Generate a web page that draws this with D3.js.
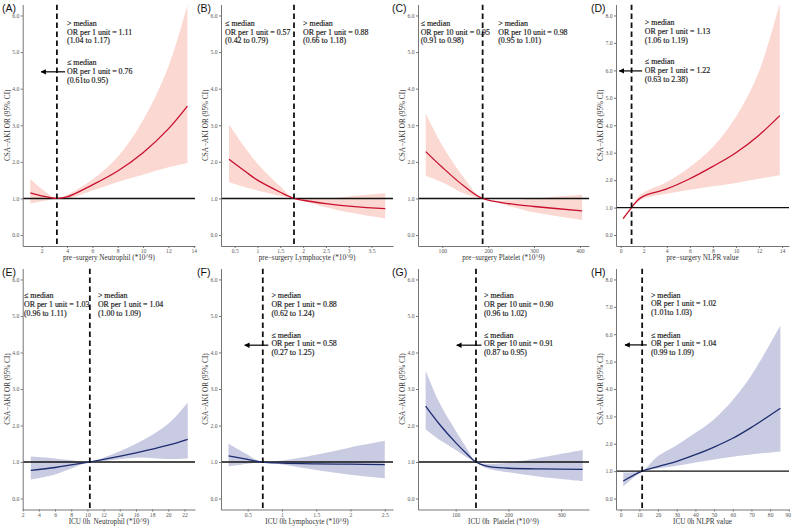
<!DOCTYPE html>
<html lang="en">
<head>
<meta charset="utf-8">
<title>CSA-AKI restricted cubic spline panels</title>
<script src="https://cdn.jsdelivr.net/npm/d3@7"></script>
<style>
  body { margin: 0; background: #fff; }
  svg { display: block; }
  .tick text { font-family: "Liberation Serif", serif; font-size: 5.6px; fill: #555; }
  .axis path, .axis line { stroke: #666; stroke-width: 0.9; }
  .note { font-family: "Liberation Serif", serif; font-size: 7.9px; fill: #1e1e1e; stroke: #1e1e1e; stroke-width: 0.18; }
  .ttl { font-family: "Liberation Serif", serif; font-size: 7.2px; fill: #333; }
  .plab { font-family: "Liberation Sans", Arial, sans-serif; font-size: 10.5px; fill: #111; }
</style>
</head>
<body>
<script>
// ---- data (x, fitted OR, lower 95% CI, upper 95% CI) ----
var aX   = [1.1, 2.0, 3.2, 4.0, 6.0, 8.0, 10.0, 12.0, 13.5];
var aFit = [1.15, 1.07, 1.0, 1.04, 1.37, 1.75, 2.25, 2.9, 3.52];
var aLo  = [0.86, 0.92, 1.0, 0.99, 1.22, 1.45, 1.65, 1.85, 1.97];
var aHi  = [1.53, 1.26, 1.0, 1.10, 1.52, 2.14, 3.14, 4.6, 6.28];

var bX   = [0.375, 0.75, 1.0, 1.5, 1.8, 2.0, 2.5, 3.0, 3.8];
var bFit = [2.07, 1.72, 1.5, 1.17, 1.0, 0.95, 0.86, 0.79, 0.72];
var bLo  = [1.44, 1.3, 1.22, 1.07, 1.0, 0.93, 0.76, 0.62, 0.45];
var bHi  = [3.02, 2.35, 1.95, 1.33, 1.0, 1.0, 0.99, 1.05, 1.14];

var cX   = [64, 100, 150, 188, 250, 300, 405];
var cFit = [2.28, 1.85, 1.31, 1.0, 0.85, 0.78, 0.66];
var cLo  = [1.62, 1.44, 1.12, 1.0, 0.78, 0.62, 0.41];
var cHi  = [3.32, 2.45, 1.52, 1.0, 0.95, 1.0, 1.1];

var dX   = [0.22, 0.95, 1.5, 2.0, 4.0, 6.0, 8.0, 10.0, 12.0, 13.8];
var dFit = [0.6, 1.0, 1.28, 1.42, 1.68, 2.05, 2.5, 3.0, 3.64, 4.35];
var dLo  = [0.55, 0.98, 1.2, 1.33, 1.5, 1.65, 1.78, 1.9, 2.05, 2.18];
var dHi  = [0.66, 1.02, 1.38, 1.55, 1.93, 2.48, 3.21, 4.31, 5.96, 8.45];

var eX   = [3.0, 6.0, 8.0, 10.2, 12.0, 16.0, 20.0, 22.4];
var eFit = [0.77, 0.85, 0.92, 1.0, 1.07, 1.25, 1.46, 1.62];
var eLo  = [0.52, 0.66, 0.82, 1.0, 1.03, 1.12, 1.08, 1.1];
var eHi  = [1.15, 1.1, 1.05, 1.0, 1.12, 1.5, 2.05, 2.63];

var fX   = [0.22, 0.5, 0.7, 1.0, 1.5, 2.0, 2.5];
var fFit = [1.17, 1.07, 1.0, 0.97, 0.95, 0.94, 0.93];
var fLo  = [0.88, 0.95, 1.0, 0.93, 0.78, 0.65, 0.55];
var fHi  = [1.5, 1.2, 1.0, 1.04, 1.2, 1.4, 1.58];

var gX   = [43, 70, 100, 120, 138.5, 155, 170, 200, 260, 341];
var gFit = [2.53, 2.02, 1.53, 1.24, 1.0, 0.9, 0.86, 0.83, 0.81, 0.8];
var gLo  = [1.9, 1.6, 1.33, 1.14, 1.0, 0.85, 0.79, 0.72, 0.6, 0.48];
var gHi  = [3.5, 2.6, 1.86, 1.4, 1.0, 0.95, 0.95, 0.98, 1.12, 1.33];

var hX   = [1.4, 11.5, 20, 30, 40, 50, 60, 70, 85.5];
var hFit = [0.64, 1.0, 1.17, 1.36, 1.6, 1.88, 2.2, 2.6, 3.3];
var hLo  = [0.44, 0.98, 1.1, 1.2, 1.32, 1.43, 1.53, 1.61, 1.72];
var hHi  = [0.95, 1.02, 1.55, 1.95, 2.4, 2.9, 3.6, 4.5, 6.32];

// axis ticks
var ticksA = [2, 4, 6, 8, 10, 12, 14];
var ticksB = [0.5, 1, 1.5, 2, 2.5, 3, 3.5];
var ticksC = [100, 200, 300, 400];
var ticksD = [0, 2, 4, 6, 8, 10, 12, 14];
var ticksE = [2, 4, 6, 8, 10, 12, 14, 16, 18, 20, 22];
var ticksF = [0.5, 1, 1.5, 2, 2.5];
var ticksG = [100, 200, 300];
var ticksH = [0, 10, 20, 30, 40, 50, 60, 70, 80, 90];

var xTitles = ["pre\u2212surgery Neutrophil (*10^9)", "pre\u2212surgery Lymphocyte (*10^9)",
  "pre\u2212surgery Platelet (*10^9)", "pre\u2212surgery NLPR value",
  "ICU 0h  Neutrophil (*10^9)", "ICU 0h Lymphocyte (*10^9)",
  "ICU 0h  Platelet (*10^9)", "ICU 0h NLPR value"];

var medians = [3.2, 1.8, 188, 0.95, 10.3, 0.72, 138.5, 11.5];

var RED = "#c8102e", PINK = "#fbd8d2", NAVY = "#1c2c6e", LAV = "#c8cbe2";

// annotation blocks: [x, y(first line), lines]
var notes = {
  A: [[4.0, 5.79, ["> median", "OR per 1 unit = 1.11", "(1.04 to 1.17)"]],
      [4.0, 4.71, ["\u2264 median", "OR per 1 unit = 0.76", "(0.61to 0.95)"]]],
  B: [[0.29, 5.79, ["\u2264 median", "OR per 1 unit = 0.57", "(0.42 to 0.79)"]],
      [2.0, 5.79, ["> median", "OR per 1 unit = 0.88", "(0.66 to 1.18)"]]],
  C: [[52.8, 5.79, ["\u2264 median", "OR per 10 unit = 0.95", "(0.91 to 0.98)"]],
      [222, 5.79, ["> median", "OR per 10 unit = 0.98", "(0.95 to 1.01)"]]],
  D: [[2.1, 7.74, ["> median", "OR per 1 unit = 1.13", "(1.06 to 1.19)"]],
      [2.1, 6.32, ["\u2264 median", "OR per 1 unit = 1.22", "(0.63 to 2.38)"]]],
  E: [[2.16, 5.56, ["\u2264 median", "OR per 1 unit = 1.03", "(0.96 to 1.11)"]],
      [11.3, 5.56, ["> median", "OR per 1 unit = 1.04", "(1.00 to 1.09)"]]],
  F: [[0.846, 5.56, ["> median", "OR per 1 unit = 0.88", "(0.62 to 1.24)"]],
      [0.846, 4.48, ["\u2264 median", "OR per 1 unit = 0.58", "(0.27 to 1.25)"]]],
  G: [[153.7, 5.56, ["> median", "OR per 10 unit = 0.90", "(0.96 to 1.02)"]],
      [153.7, 4.48, ["\u2264 median", "OR per 10 unit = 0.91", "(0.87 to 0.95)"]]],
  H: [[16.2, 7.44, ["> median", "OR per 1 unit = 1.02", "(1.01to 1.03)"]],
      [16.2, 5.98, ["\u2264 median", "OR per 1 unit = 1.04", "(0.99 to 1.09)"]]]
};
// arrows: [y, from x, to x]
var arrows = { A: [4.46, 3.85, 1.95], D: [5.98, 1.87, -0.12], F: [4.2, 0.8, 0.456],
               G: [4.2, 149, 102], H: [5.61, 14, 2.3] };

// ---- layout ----
var width = 792, height = 527;
var cols = [[22.7, 195], [221, 393], [418, 589], [616, 789]];
var rows = [[4.5, 246], [268.5, 509.5]];
var labX = [2, 197, 392, 591];

var panels = [
  {id: "A", x: aX, fit: aFit, lo: aLo, hi: aHi, xd: [0.5, 14.1], ymax: 6, ticks: ticksA},
  {id: "B", x: bX, fit: bFit, lo: bLo, hi: bHi, xd: [0.2, 3.97], ymax: 6, ticks: ticksB},
  {id: "C", x: cX, fit: cFit, lo: cLo, hi: cHi, xd: [47, 420], ymax: 6, ticks: ticksC},
  {id: "D", x: dX, fit: dFit, lo: dLo, hi: dHi, xd: [-0.4, 14.6], ymax: 8, ticks: ticksD},
  {id: "E", x: eX, fit: eFit, lo: eLo, hi: eHi, xd: [2.0, 23.3], ymax: 6, ticks: ticksE},
  {id: "F", x: fX, fit: fFit, lo: fLo, hi: fHi, xd: [0.11, 2.62], ymax: 6, ticks: ticksF},
  {id: "G", x: gX, fit: gFit, lo: gLo, hi: gHi, xd: [28.5, 353], ymax: 6, ticks: ticksG},
  {id: "H", x: hX, fit: hFit, lo: hLo, hi: hHi, xd: [-2.5, 90.1], ymax: 8, ticks: ticksH}
];

var svg = d3.select("body").append("svg")
    .attr("width", width)
    .attr("height", height);

var defs = svg.append("defs");
defs.append("marker")
    .attr("id", "ahead")
    .attr("viewBox", "0 0 10 10")
    .attr("refX", 9).attr("refY", 5)
    .attr("markerWidth", 4.5).attr("markerHeight", 4.5)
    .attr("orient", "auto")
    .append("path").attr("d", "M0,0 L10,5 L0,10 Z").attr("fill", "#000");

panels.forEach(function(p, i) {
  var c = cols[i % 4], r = rows[Math.floor(i / 4)];
  var line = i < 4 ? RED : NAVY, band = i < 4 ? PINK : LAV;

  var x = d3.scaleLinear().domain(p.xd).range(c);
  var y = d3.scaleLinear().domain([-0.05 * p.ymax, 1.05 * p.ymax]).range([r[1], r[0]]);

  var g = svg.append("g");

  defs.append("clipPath").attr("id", "clip" + p.id)
    .append("rect").attr("x", c[0]).attr("y", r[0])
    .attr("width", c[1] - c[0]).attr("height", r[1] - r[0]);

  var pts = p.x.map(function(v, k) { return {x: v, f: p.fit[k], lo: p.lo[k], hi: p.hi[k]}; });

  var area = d3.area()
      .x(function(d) { return x(d.x); })
      .y0(function(d) { return y(d.lo); })
      .y1(function(d) { return y(d.hi); })
      .curve(d3.curveCatmullRom.alpha(0.5));

  var fitLine = d3.line()
      .x(function(d) { return x(d.x); })
      .y(function(d) { return y(d.f); })
      .curve(d3.curveCatmullRom.alpha(0.5));

  var plot = g.append("g").attr("clip-path", "url(#clip" + p.id + ")");
  plot.append("path").datum(pts).attr("d", area).attr("fill", band);

  // reference line OR = 1
  plot.append("line")
      .attr("x1", c[0]).attr("x2", c[1])
      .attr("y1", y(1)).attr("y2", y(1))
      .attr("stroke", "#111").attr("stroke-width", 1.4);

  plot.append("path").datum(pts).attr("d", fitLine)
      .attr("fill", "none").attr("stroke", line).attr("stroke-width", 1.3);

  // median
  plot.append("line")
      .attr("x1", x(medians[i])).attr("x2", x(medians[i]))
      .attr("y1", r[0]).attr("y2", r[1])
      .attr("stroke", "#111").attr("stroke-width", 1.8)
      .attr("stroke-dasharray", "5.5,3.5");

  // axes
  var yTicks = d3.range(0, p.ymax + 1);
  g.append("g").attr("class", "axis")
      .attr("transform", "translate(" + c[0] + ",0)")
      .call(d3.axisLeft(y).tickValues(yTicks).tickFormat(d3.format(".1f")).tickSize(2).tickPadding(1.5).tickSizeOuter(0));
  var xa = g.append("g").attr("class", "axis")
      .attr("transform", "translate(0," + r[1] + ")")
      .call(d3.axisBottom(x).tickValues(p.ticks).tickFormat(d3.format("")).tickSize(2).tickPadding(1.5).tickSizeOuter(0));
  xa.selectAll(".tick text").each(function() {
    var t = d3.select(this), bb = this.getBBox();
    var tx = this.parentNode.transform.baseVal.consolidate().matrix.e;
    if (tx + bb.width / 2 > width - 1) t.attr("text-anchor", "end").attr("x", width - 1 - tx);
  });

  // titles
  g.append("text").attr("class", "ttl")
      .attr("transform", "translate(" + (c[0] - 15.5) + "," + ((r[0] + r[1]) / 2) + ") rotate(-90)")
      .attr("text-anchor", "middle").attr("dy", "0.35em")
      .text("CSA\u2212AKI OR (95% CI)");
  g.append("text").attr("class", "ttl")
      .attr("x", (c[0] + c[1]) / 2).attr("y", r[1] + 11.5)
      .attr("text-anchor", "middle").attr("dy", "0.35em")
      .style("white-space", "pre")
      .text(xTitles[i]);

  g.append("text").attr("class", "plab")
      .attr("x", labX[i % 4]).attr("y", r[0] + 7.3)
      .text("(" + p.id + ")");

  // annotations
  notes[p.id].forEach(function(n) {
    var t = g.append("text").attr("class", "note")
        .attr("x", x(n[0])).attr("y", y(n[1]));
    n[2].forEach(function(s, k) {
      t.append("tspan").attr("x", x(n[0])).attr("dy", k === 0 ? "0.35em" : "8.7px").text(s);
    });
  });

  if (arrows[p.id]) {
    var a = arrows[p.id];
    g.append("line")
        .attr("x1", x(a[1])).attr("x2", x(a[2]))
        .attr("y1", y(a[0])).attr("y2", y(a[0]))
        .attr("stroke", "#000").attr("stroke-width", 1.2)
        .attr("marker-end", "url(#ahead)");
  }
});
</script>
</body>
</html>
